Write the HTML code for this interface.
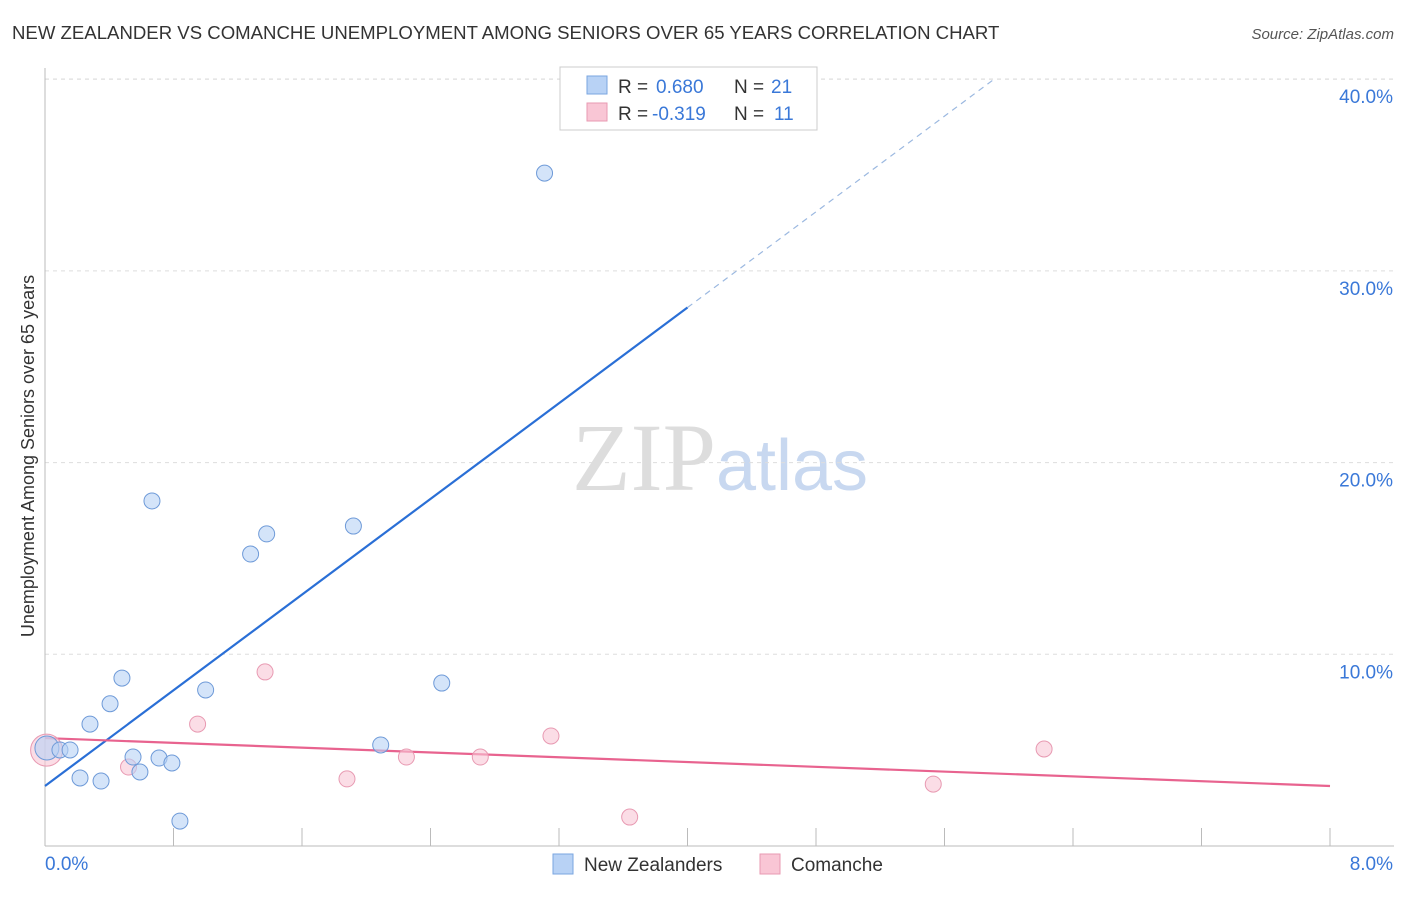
<!DOCTYPE html>
<html><head><meta charset="utf-8"><style>
body{margin:0;background:#fff;font-family:"Liberation Sans",sans-serif}
</style></head><body>
<svg id="chart" width="1406" height="892" xmlns="http://www.w3.org/2000/svg" font-family="Liberation Sans, sans-serif">
<text x="12" y="39" font-size="18.6" fill="#333">NEW ZEALANDER VS COMANCHE UNEMPLOYMENT AMONG SENIORS OVER 65 YEARS CORRELATION CHART</text>
<text x="1394" y="39" font-size="15" fill="#555" text-anchor="end" font-style="italic">Source: ZipAtlas.com</text>
<text x="720" y="490" font-size="96" text-anchor="middle"><tspan fill="#ddd" font-family="Liberation Serif, serif">ZIP</tspan><tspan fill="#c8d8f0" font-size="72">atlas</tspan></text>
<text transform="translate(34,456) rotate(-90)" font-size="18" fill="#333" text-anchor="middle">Unemployment Among Seniors over 65 years</text>
<g id="grid"></g><g id="axes"></g><g id="lines"></g><g id="pts"></g>
<g>
<rect x="560" y="67" width="257" height="63" fill="#fff" stroke="#ccc"/>
<rect x="587" y="76" width="20" height="18" fill="#b8d2f5" stroke="#7aa6e0"/>
<text x="618" y="93" font-size="19" fill="#333">R =</text>
<text x="656" y="93" font-size="19" fill="#3a78d8">0.680</text>
<text x="734" y="93" font-size="19" fill="#333">N =</text>
<text x="771" y="93" font-size="19" fill="#3a78d8">21</text>
<rect x="587" y="103" width="20" height="18" fill="#f9c6d5" stroke="#e89ab2"/>
<text x="618" y="120" font-size="19" fill="#333">R =</text>
<text x="652" y="120" font-size="19" fill="#3a78d8">-0.319</text>
<text x="734" y="120" font-size="19" fill="#333">N =</text>
<text x="774" y="120" font-size="19" fill="#3a78d8">11</text>
</g>
<g>
<rect x="553" y="854" width="20" height="20" fill="#b8d2f5" stroke="#7aa6e0"/>
<text x="584" y="871" font-size="19" fill="#333">New Zealanders</text>
<rect x="760" y="854" width="20" height="20" fill="#f9c6d5" stroke="#e89ab2"/>
<text x="791" y="871" font-size="19" fill="#333">Comanche</text>
</g>
</svg>
<script>
const blueX=[0.012,0.093,0.156,0.218,0.28,0.349,0.405,0.479,0.548,0.591,0.666,0.71,0.79,0.84,1.0,1.28,1.38,1.92,2.09,2.47,3.11];
const blueY=[5.11,5.01,5.01,3.55,6.36,3.39,7.42,8.76,4.64,3.86,18.0,4.59,4.33,1.30,8.14,15.23,16.28,16.69,5.27,8.50,35.1];
const pinkX=[0.01,0.52,0.95,1.37,1.88,2.25,2.71,3.15,3.64,5.53,6.22];
const pinkY=[5.0,4.12,6.36,9.08,3.50,4.64,4.64,5.74,1.51,3.23,5.06];
const yTicks=[10,20,30,40];
const yTickLabels=["10.0%","20.0%","30.0%","40.0%"];
const xTicks=[0,0.8,1.6,2.4,3.2,4.0,4.8,5.6,6.4,7.2,8.0];
const blueTrend=[3.13,6.24];
const pinkTrend=[5.63,-0.3125];
const sx=v=>45+v*160.625, sy=v=>846-v*19.17;
const NS="http://www.w3.org/2000/svg";
function mk(p,t,a){const e=document.createElementNS(NS,t);for(const k in a)e.setAttribute(k,a[k]);document.getElementById(p).appendChild(e);return e;}
yTicks.forEach((t,i)=>{
 const g=mk('grid','line',{x1:45,x2:1394,y1:sy(t),y2:sy(t),stroke:'#ddd','stroke-dasharray':'4,4'});
 
 
 const l=mk('axes','text',{x:1393,y:sy(t)+24,'font-size':19,fill:'#3a78d8','text-anchor':'end'});
 l.textContent=yTickLabels[i];
 
 
});
const topGrid=mk('grid','line',{x1:45,x2:1394,y1:79,y2:79,stroke:'#ddd','stroke-dasharray':'4,4'});


const ya=mk('axes','line',{x1:45,x2:45,y1:68,y2:846,stroke:'#bbb'});


const xa=mk('axes','line',{x1:45,x2:1394,y1:846,y2:846,stroke:'#bbb'});


xTicks.forEach(t=>{
 const e=mk('axes','line',{x1:sx(t),x2:sx(t),y1:828,y2:846,stroke:'#bbb'});
 
 
});
[[0,"0.0%","start",45],[8,"8.0%","end",1393]].forEach(d=>{
 const l=mk('axes','text',{x:d[3],y:870,'font-size':19,fill:'#3a78d8','text-anchor':d[2]});
 l.textContent=d[1];
 
 
});
const bx1=4.0, bx2=(40-blueTrend[0])/blueTrend[1];
const bl=mk('lines','line',{x1:sx(0),y1:sy(blueTrend[0]),x2:sx(bx1),y2:sy(blueTrend[0]+blueTrend[1]*bx1),stroke:'#2a6fd6','stroke-width':2.2});


const bd=mk('lines','line',{x1:sx(bx1),y1:sy(blueTrend[0]+blueTrend[1]*bx1),x2:sx(bx2),y2:sy(40),stroke:'#9bb8e0','stroke-width':1.2,'stroke-dasharray':'6,5'});


const pl=mk('lines','line',{x1:sx(0),y1:sy(pinkTrend[0]),x2:sx(8),y2:sy(pinkTrend[0]+pinkTrend[1]*8),stroke:'#e8638f','stroke-width':2.2});


pinkX.forEach((x,i)=>{
 const c=mk('pts','circle',{cx:sx(x),cy:sy(pinkY[i]),r:i==0?16:8,fill:'#f9c6d5','fill-opacity':0.6,stroke:'#e89ab2','stroke-width':1});
 
 
});
blueX.forEach((x,i)=>{
 const c=mk('pts','circle',{cx:sx(x),cy:sy(blueY[i]),r:i==0?12:8,fill:'#b8d2f5','fill-opacity':0.6,stroke:'#6e9ad8','stroke-width':1});
 
 
});
</script>
</body></html>
